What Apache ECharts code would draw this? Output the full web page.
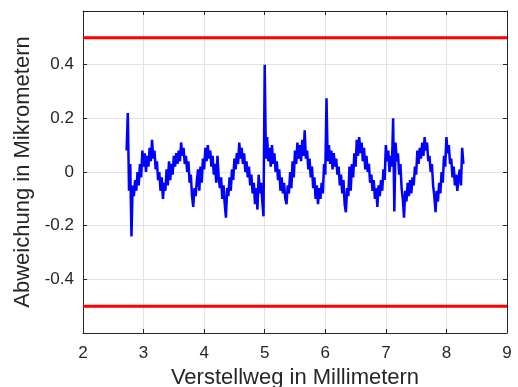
<!DOCTYPE html>
<html><head><meta charset="utf-8">
<script src="https://cdn.jsdelivr.net/npm/echarts@6/dist/echarts.min.js"></script>
<style>html,body{margin:0;padding:0;background:#fff}#c{width:518px;height:387px}</style>
</head><body><div id="c"></div>
<script>
// Verstellweg in mm / Abweichung in µm
var profile = [
[2.72,0.08],[2.74,0.22],[2.76,-0.07],[2.78,0.03],[2.80,-0.24],[2.82,-0.05],[2.84,-0.09],[2.86,-0.03],[2.88,-0.07],[2.90,0.00],
[2.92,-0.05],[2.94,0.03],[2.96,-0.02],[2.98,0.08],[3.00,0.02],[3.02,0.07],[3.04,0.00],[3.06,0.06],[3.08,0.02],[3.10,0.09],
[3.12,0.04],[3.14,0.12],[3.16,0.05],[3.18,0.08],[3.20,0.01],[3.22,0.04],[3.24,-0.03],[3.26,0.00],[3.28,-0.07],[3.30,-0.02],
[3.32,-0.10],[3.34,-0.04],[3.36,-0.07],[3.38,0.01],[3.40,-0.05],[3.42,0.04],[3.44,-0.03],[3.46,0.03],[3.48,-0.01],[3.50,0.06],
[3.52,0.02],[3.54,0.07],[3.56,0.03],[3.58,0.08],[3.60,0.04],[3.62,0.11],[3.64,0.06],[3.66,0.09],[3.68,0.03],[3.70,0.06],
[3.72,0.00],[3.74,0.04],[3.76,-0.04],[3.78,-0.01],[3.80,-0.09],[3.82,-0.13],[3.84,-0.06],[3.86,-0.09],[3.88,-0.03],[3.90,0.01],
[3.92,-0.07],[3.94,0.02],[3.96,-0.04],[3.98,0.05],[4.00,0.01],[4.02,0.09],[4.04,0.04],[4.06,0.10],[4.08,0.05],[4.10,0.08],
[4.12,0.02],[4.14,0.06],[4.16,-0.01],[4.18,0.03],[4.20,-0.04],[4.22,0.06],[4.24,-0.02],[4.26,-0.06],[4.28,-0.02],[4.30,-0.10],
[4.32,-0.05],[4.34,-0.12],[4.36,-0.17],[4.38,-0.06],[4.40,-0.09],[4.42,-0.02],[4.44,-0.07],[4.46,0.01],[4.48,-0.03],[4.50,0.05],
[4.52,0.01],[4.54,0.07],[4.56,0.03],[4.58,0.11],[4.60,0.05],[4.62,0.09],[4.64,0.03],[4.66,0.07],[4.68,0.00],[4.70,0.04],
[4.72,-0.02],[4.74,0.02],[4.76,-0.05],[4.78,-0.01],[4.80,-0.08],[4.82,-0.04],[4.84,-0.12],[4.86,-0.06],[4.88,-0.14],[4.90,-0.01],
[4.92,-0.08],[4.94,-0.04],[4.96,-0.11],[4.98,-0.165],[5.00,0.40],[5.02,0.05],[5.04,0.13],[5.06,0.04],[5.08,0.09],[5.10,0.02],
[5.12,0.10],[5.14,0.03],[5.16,0.07],[5.18,0.00],[5.20,0.04],[5.22,-0.03],[5.24,0.01],[5.26,-0.07],[5.28,-0.02],[5.30,-0.08],
[5.32,-0.04],[5.34,-0.10],[5.36,-0.12],[5.38,-0.05],[5.40,-0.08],[5.42,0.00],[5.44,-0.06],[5.46,0.04],[5.48,-0.02],[5.50,0.08],
[5.52,0.03],[5.54,0.11],[5.56,0.05],[5.58,0.10],[5.60,0.04],[5.62,0.12],[5.64,0.06],[5.66,0.155],[5.68,0.05],[5.70,0.08],
[5.72,0.01],[5.74,0.05],[5.76,-0.02],[5.78,0.02],[5.80,-0.06],[5.82,-0.02],[5.84,-0.10],[5.86,-0.05],[5.88,-0.12],[5.90,-0.06],
[5.92,-0.10],[5.94,-0.04],[5.96,-0.08],[5.98,0.03],[6.00,-0.01],[6.02,0.275],[6.04,0.04],[6.06,0.10],[6.08,0.03],[6.10,0.08],
[6.12,0.01],[6.14,0.07],[6.16,0.02],[6.18,0.05],[6.20,-0.01],[6.22,0.02],[6.24,-0.05],[6.26,-0.01],[6.28,-0.08],[6.30,-0.03],
[6.32,-0.12],[6.34,-0.15],[6.36,-0.06],[6.38,-0.09],[6.40,0.02],[6.42,-0.07],[6.44,0.03],[6.46,-0.02],[6.48,0.07],[6.50,0.02],
[6.52,0.12],[6.54,0.06],[6.56,0.13],[6.58,0.07],[6.60,0.11],[6.62,0.04],[6.64,0.09],[6.66,0.01],[6.68,0.06],[6.70,0.00],
[6.72,0.03],[6.74,-0.04],[6.76,-0.01],[6.78,-0.07],[6.80,-0.03],[6.82,-0.10],[6.84,-0.06],[6.86,-0.13],[6.88,-0.05],[6.90,-0.09],
[6.92,-0.03],[6.94,-0.07],[6.96,0.01],[6.98,-0.03],[7.00,0.10],[7.02,0.04],[7.04,0.08],[7.06,0.00],[7.08,0.06],[7.10,0.02],
[7.12,0.20],[7.14,-0.147],[7.16,0.11],[7.18,0.04],[7.20,0.07],[7.22,-0.01],[7.24,0.03],[7.26,-0.06],[7.28,-0.10],[7.30,-0.17],
[7.32,-0.07],[7.34,-0.11],[7.36,-0.04],[7.38,-0.09],[7.40,-0.03],[7.42,-0.08],[7.44,-0.02],[7.46,-0.05],[7.48,0.02],[7.50,-0.01],
[7.52,0.08],[7.54,0.03],[7.56,0.09],[7.58,0.05],[7.60,0.11],[7.62,0.06],[7.64,0.13],[7.66,0.08],[7.68,0.11],[7.70,0.04],
[7.72,0.06],[7.74,0.00],[7.76,0.03],[7.78,-0.05],[7.80,-0.09],[7.82,-0.15],[7.84,-0.07],[7.86,-0.11],[7.88,-0.04],[7.90,-0.08],
[7.92,0.00],[7.94,-0.04],[7.96,0.06],[7.98,0.02],[8.00,0.13],[8.02,0.07],[8.04,0.10],[8.06,0.03],[8.08,0.05],[8.10,-0.02],
[8.12,0.02],[8.14,-0.05],[8.16,-0.01],[8.18,-0.07],[8.20,-0.02],[8.22,0.01],[8.24,-0.05],[8.26,0.09],[8.28,0.03]
];
var limitValues = [0.5, -0.5];
var xRange = [2, 9];
var yRange = [-0.6, 0.6];
var xTitle = 'Verstellweg in Millimetern';
var yTitle = 'Abweichung in Mikrometern';

var FONT = '"Liberation Sans", Arial, sans-serif';
var AX = '#262626';
var chart = echarts.init(document.getElementById('c'), null, {renderer: 'canvas'});
function axisCommon() {
  return {
    axisLine: {show: true, onZero: false, lineStyle: {color: AX, width: 1}},
    axisTick: {show: true, inside: true, length: 4, lineStyle: {color: AX}},
    splitLine: {show: false}
  };
}
var series = [{
  type: 'line', data: profile, showSymbol: false, symbol: 'none',
  lineStyle: {color: '#0000ff', width: 2.5}, z: 3, animation: false
}];
limitValues.forEach(function (v) {
  series.push({
    type: 'line', data: [[xRange[0], v], [xRange[1], v]], showSymbol: false, symbol: 'none',
    lineStyle: {color: '#ff0000', width: 3}, z: 4, animation: false
  });
});
chart.setOption({
  animation: false,
  grid: {left: 83, top: 11, width: 424, height: 322, containLabel: false, outerBoundsMode: 'none'},
  xAxis: [
    Object.assign(axisCommon(), {
      type: 'value', min: xRange[0], max: xRange[1], interval: 1, position: 'bottom',
      axisLabel: {color: AX, fontFamily: FONT, fontSize: 17, margin: 12},
      splitLine: {show: true, lineStyle: {color: '#e3e3e3', width: 1}},
      name: xTitle, nameLocation: 'middle', nameGap: 30,
      nameTextStyle: {color: AX, fontFamily: FONT, fontSize: 22}
    }),
    Object.assign(axisCommon(), {
      type: 'value', min: xRange[0], max: xRange[1], interval: 1, position: 'top',
      axisLabel: {show: false}
    })
  ],
  yAxis: [
    Object.assign(axisCommon(), {
      type: 'value', min: yRange[0], max: yRange[1], interval: 0.2, position: 'left',
      axisLabel: {color: AX, fontFamily: FONT, fontSize: 17, margin: 9,
        formatter: function (v) { if (Math.abs(Math.abs(v) - 0.6) < 1e-9) return ''; var s = (Math.round(v * 10) / 10).toString(); return s === '-0' ? '0' : s; }},
      splitLine: {show: true, lineStyle: {color: '#e3e3e3', width: 1}},
      name: yTitle, nameLocation: 'middle', nameGap: 45,
      nameTextStyle: {color: AX, fontFamily: FONT, fontSize: 22}
    }),
    Object.assign(axisCommon(), {
      type: 'value', min: yRange[0], max: yRange[1], interval: 0.2, position: 'right',
      axisLabel: {show: false}
    })
  ],
  series: series
});
</script></body></html>
